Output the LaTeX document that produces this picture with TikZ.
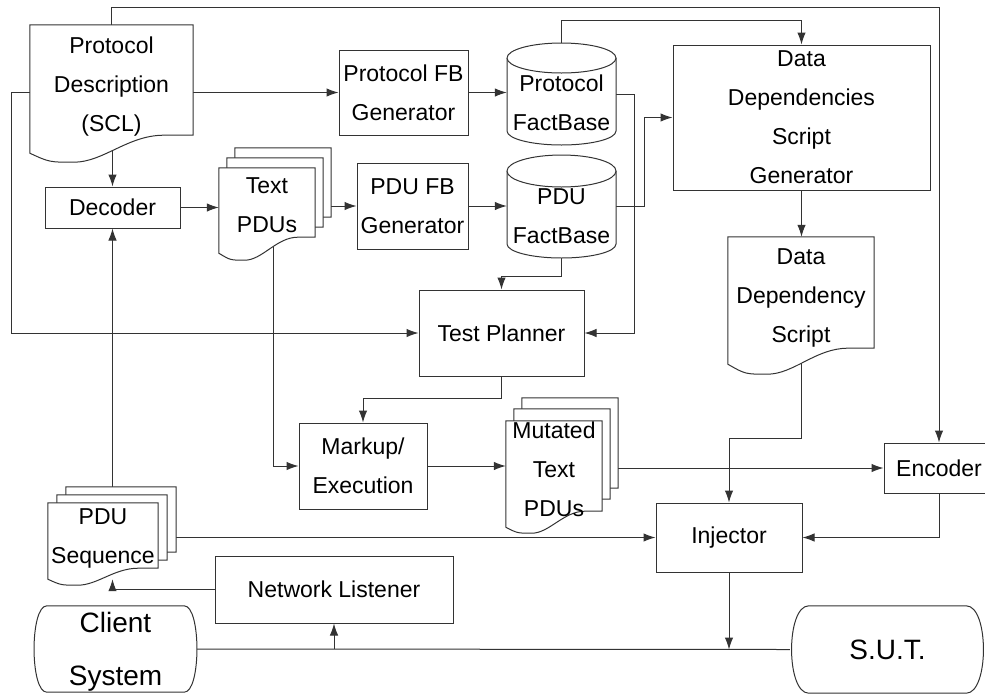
\documentclass[tikz,border=0pt]{standalone}
\usepackage{fontspec}
\setmainfont{Liberation Sans}
\usetikzlibrary{calc}
\usetikzlibrary{arrows.meta}
\usetikzlibrary{positioning}

\pgfdeclarelayer{lines}
\pgfdeclarelayer{sheets}
\pgfsetlayers{lines,sheets,main}

\tikzset{
  base/.style={inner sep=0pt, align=center, font=\fontsize{23}{39}\selectfont},
  block/.style={base, draw=black!80, line width=1pt, fill=white},
  doc/.style={base, text depth=10pt},
  sheet/.style={draw=black!80, line width=1pt, fill=white},
  wire/.style={draw=black!80, line width=1pt},
  link/.style={wire, -{Latex[length=12pt,width=8.5pt]}},
}

% sheet with a wavy lower edge: node, rise at the right, dip at the left
\newcommand{\docsheet}[3]{%
  \draw[sheet] (#1.north west) -- (#1.north east) -- ([yshift=#2pt]#1.south east)
    -- ($(#1.south west)!0.82!(#1.south east)+(0,-#2)$)
    .. controls ($(#1.south west)!0.6!(#1.south east)+(0,-#2)$) and ($(#1.south west)!0.45!(#1.south east)+(0,#3)$)
    .. ($(#1.south west)!0.27!(#1.south east)+(0,#3)$)
    .. controls ($(#1.south west)!0.12!(#1.south east)+(0,#3)$) .. (#1.south west) -- cycle;}

% terminal with bulging sides: node, corner inset
\newcommand{\termshape}[2]{%
  \draw[sheet] ([xshift=#2pt]#1.north west) -- ([xshift=-#2pt]#1.north east)
    .. controls ([xshift=4pt]#1.north east) and ([xshift=4pt]#1.south east) .. ([xshift=-#2pt]#1.south east)
    -- ([xshift=#2pt]#1.south west)
    .. controls ([xshift=-4pt]#1.south west) and ([xshift=-4pt]#1.north west) .. ([xshift=#2pt]#1.north west) -- cycle;}

\begin{document}
\begin{tikzpicture}[x=1pt, y=-1pt]
  \useasboundingbox (0,0) rectangle (985,694);

  % top row
  \node[doc, minimum width=163pt, minimum height=128pt] (pd) at (111.5,89) {Protocol\\Description\\(SCL)};
  \node[block, minimum width=129pt, minimum height=85pt] (pfg) at (403.5,92.5) {Protocol FB\\Generator};
  \node[base, minimum width=109pt, minimum height=102pt] (pfb) at (561.5,94) {};
  \node[base] (pfb-text) at (561.5,103) {Protocol\\FactBase};
  \node[block, minimum width=257pt, minimum height=145pt] (ddsg) at (801.5,117.5) {Data\\Dependencies\\Script\\Generator};

  % second row
  \node[block, minimum width=135pt, minimum height=41pt] (dec) at (112.5,207.5) {Decoder};
  \node[doc, minimum width=96pt, minimum height=85pt] (tpdu) at (267,210.5) {Text\\PDUs};
  \node[doc, minimum width=96pt, minimum height=85pt] (tpdu-2) at ([shift={(8,-10)}]tpdu.center) {};
  \node[doc, minimum width=96pt, minimum height=85pt] (tpdu-3) at ([shift={(16,-20)}]tpdu.center) {};
  \node[block, minimum width=111pt, minimum height=86pt] (pdufg) at (412.5,206) {PDU FB\\Generator};
  \node[base, minimum width=109pt, minimum height=103pt] (pdufb) at (561.5,206.5) {};
  \node[base] (pdufb-text) at (561.5,216) {PDU\\FactBase};
  \node[doc, minimum width=146pt, minimum height=127pt] (dds) at (801,300.5) {Data\\Dependency\\Script};

  % middle
  \node[block, minimum width=165pt, minimum height=86pt] (tp) at (501.5,333) {Test Planner};
  \node[block, minimum width=128pt, minimum height=86pt] (mx) at (363,466) {Markup/\\Execution};
  \node[doc, minimum width=96pt, minimum height=106pt] (mut) at (554,474) {Mutated\\Text\\PDUs};
  \node[doc, minimum width=96pt, minimum height=106pt] (mut-2) at ([shift={(8,-12)}]mut.center) {};
  \node[doc, minimum width=96pt, minimum height=106pt] (mut-3) at ([shift={(16,-23)}]mut.center) {};
  \node[block, minimum width=110pt, minimum height=50pt] (enc) at (939,468) {Encoder};
  \node[block, minimum width=146pt, minimum height=69pt] (inj) at (729,537.5) {Injector};

  % bottom
  \node[doc, minimum width=110pt, minimum height=76pt] (pseq) at (103,541) {PDU\\Sequence};
  \node[doc, minimum width=110pt, minimum height=76pt] (pseq-2) at ([shift={(9,-8)}]pseq.center) {};
  \node[doc, minimum width=110pt, minimum height=76pt] (pseq-3) at ([shift={(18,-16)}]pseq.center) {};
  \node[block, minimum width=238pt, minimum height=67pt] (nl) at (334,589.5) {Network Listener};
  \node[base, minimum width=163pt, minimum height=86pt, text depth=0pt, font=\fontsize{28}{53}\selectfont] (cs) at (115.5,649) {Client\\System};
  \node[base, minimum width=195pt, minimum height=87pt, font=\fontsize{28}{53}\selectfont] (sut) at (887.5,649.5) {S.U.T.};

  \begin{pgfonlayer}{sheets}
    \docsheet{pd}{18}{9}
    \docsheet{tpdu-3}{16}{7}
    \docsheet{tpdu-2}{16}{7}
    \docsheet{tpdu}{16}{7}
    \docsheet{dds}{16}{10}
    \docsheet{mut-3}{16}{6}
    \docsheet{mut-2}{16}{6}
    \docsheet{mut}{16}{6}
    \docsheet{pseq-3}{11}{6}
    \docsheet{pseq-2}{11}{6}
    \docsheet{pseq}{11}{6}
    % fact bases
    \draw[sheet] (507,58) -- (507,131) arc(180:0:54.5 and 14) -- (616,58) arc(0:-180:54.5 and 15) -- cycle;
    \draw[sheet] (507,58) arc(180:0:54.5 and 15);
    \draw[sheet] (507,171) -- (507,244) arc(180:0:54.5 and 14) -- (616,171) arc(0:-180:54.5 and 16) -- cycle;
    \draw[sheet] (507,171) arc(180:0:54.5 and 16);
    \termshape{cs}{13}
    \termshape{sut}{19}
  \end{pgfonlayer}

  \begin{pgfonlayer}{lines}
    \draw[link] (pd.north) -- ++(0,-17) -| (enc.north);
    \draw[link] (pd.west |- pfg.west) -- ++(-18,0) |- (tp.west);
    \draw[link] (pd.east |- pfg.west) -- (pfg.west);
    \draw[link] (pfg.east) -- (pfg.east -| pfb.west);
    \draw[link] (pfb.north) -- ++(0,-22) -| (ddsg.north);
    \draw[link] (pfb.east) -- ++(18,0) |- (tp.east);
    \draw[link] (pdufb.east) -- ++(28,0) |- (ddsg.west);
    \draw[link] (pdufb.south) -- ++(0,18) -| (tp.north);
    \draw[link] (dec.north |- pd.center) -- (dec.north);
    \draw[link] (dec.east) -- (dec.east -| tpdu.west);
    \draw[link] (tpdu-3.east |- pdufg.west) -- (pdufg.west);
    \draw[link] (pdufg.east) -- (pdufg.east -| pdufb.west);
    \draw[link] ([xshift=6pt]tpdu.center) |- (mx.west);
    \draw[link] (tp.south) -- ++(0,22) -| (mx.north);
    \draw[link] (mx.east) -- (mx.east -| mut.west);
    \draw[link] (mut-3.east |- enc.west) -- (enc.west);
    \draw[link] (ddsg.south) -- (ddsg.south |- dds.north);
    \coordinate (dds-turn) at ($(dds.south)+(0,74)$);
    \draw[link] (dds.center) -- (dds-turn) -| (inj.north);
    \draw[link] (enc.south) |- (inj.east);
    \draw[link] (pseq-3.east |- inj.west) -- (inj.west);
    \draw[link] (dec.south |- pseq-3.north) -- (dec.south);
    % bus between client and system under test
    \draw[wire] (cs.east) -- (sut.west);
    \draw[link] (nl.south |- cs.east) -- (nl.south);
    \draw[link] (inj.south) -- (inj.south |- sut.west);
  \end{pgfonlayer}
  \draw[link] (nl.west) -| (dec.south |- pseq.south);
\end{tikzpicture}
\end{document}
